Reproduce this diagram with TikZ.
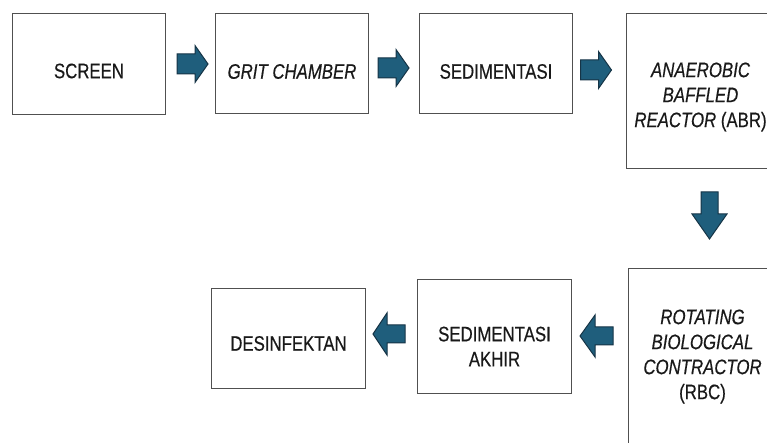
\documentclass[tikz,border=0pt]{standalone}
\usepackage{fontspec}
\setmainfont{Liberation Sans}[FakeStretch=0.8,FakeBold=0.4]
\usetikzlibrary{calc}
\definecolor{boxline}{RGB}{80,80,80}
\definecolor{txt}{RGB}{25,25,25}
\definecolor{arrowfill}{RGB}{31,94,124}
\definecolor{arrowline}{RGB}{22,52,70}
\tikzset{
  stage/.style={draw=boxline, line width=1bp, fill=white, inner sep=0pt, anchor=north west},
  lbl/.style={text=txt, font=\fontsize{21bp}{25bp}\selectfont, align=center, inner sep=0pt},
  flow/.style={draw=arrowline, fill=arrowfill, line width=1bp, line join=miter},
}
% block arrow: centre x, centre y, direction, length, head width, shaft width, head length
\newcommand\blockarrow[7]{%
  \draw[flow, shift={(#1,#2)}, rotate=#3]
    ({-#4/2},{-#6/2}) -- ({#4/2-#7},{-#6/2}) -- ({#4/2-#7},{-#5/2}) -- ({#4/2},0)
    -- ({#4/2-#7},{#5/2}) -- ({#4/2-#7},{#6/2}) -- ({-#4/2},{#6/2}) -- cycle;}
\begin{document}
\begin{tikzpicture}[x=1bp,y=-1bp]
\useasboundingbox (0,0) rectangle (767,443);
% top row
\node[stage, minimum width=153bp, minimum height=101bp] (screen) at (12,13) {};
\node[stage, minimum width=153bp, minimum height=100bp] (grit) at (215,13) {};
\node[stage, minimum width=153bp, minimum height=100bp] (sed) at (419,13) {};
\node[stage, minimum width=148bp, minimum height=155bp] (abr) at (626,13) {};
% bottom row
\node[stage, minimum width=154bp, minimum height=100bp] (desinf) at (211,288) {};
\node[stage, minimum width=154bp, minimum height=114bp] (sedakhir) at (417,279) {};
\node[stage, minimum width=148bp, minimum height=176bp] (rbc) at (628,268) {};
% labels
\node[lbl] at ($(screen.center)+(0,7)$) {SCREEN};
\node[lbl] at ($(grit.center)+(0,8)$) {\itshape GRIT CHAMBER};
\node[lbl] at ($(sed.center)+(0,8)$) {SEDIMENTASI};
\node[lbl] at ($(abr.center)+(0,6)$) {\itshape ANAEROBIC\\\itshape BAFFLED\\\itshape REACTOR\upshape\ (ABR)};
\node[lbl] at ($(desinf.center)+(0,5)$) {DESINFEKTAN};
\node[lbl] at ($(sedakhir.center)+(0,10)$) {SEDIMENTASI\\AKHIR};
\node[lbl] at ($(rbc.center)+(0,0)$) {\itshape ROTATING\\\itshape BIOLOGICAL\\\itshape CONTRACTOR\\(RBC)};
% block arrows between stages
\blockarrow{192.5}{64}{0}{31}{37}{20}{13}
\blockarrow{393.5}{68}{0}{31}{37}{20}{13}
\blockarrow{596}{70}{0}{31}{37}{20}{13}
\blockarrow{709.5}{215.5}{-90}{47}{35}{17}{25}
\blockarrow{596.5}{336}{180}{33}{42}{18}{15}
\blockarrow{389}{334}{180}{32}{42}{18}{14}
\end{tikzpicture}
\end{document}
